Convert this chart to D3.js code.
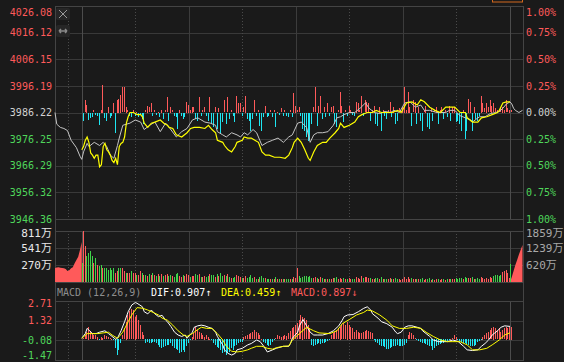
<!DOCTYPE html>
<meta charset="utf-8">
<style>
body { margin: 0; background: #1a1a1a; }
svg { display: block; }
text { font-family: "DejaVu Sans Mono", "Liberation Mono", "Noto Sans CJK SC", monospace; font-size: 10px; }
</style>
<svg width="564" height="362"></svg>
<script src="https://d3js.org/d3.v7.min.js"></script>
<script>
// ---- data (minutes from 9:30, -15 = 9:15 auction, 240 = 15:00) ----
var baseClose = 3986.22;
var pctTicks = [1, 0.75, 0.5, 0.25, 0, -0.25, -0.5, -0.75, -1];
var volTicks = [811, 541, 270];
var auctionTicks = [1859, 1239, 620];
var macdTicks = [2.71, 1.32, -0.08, -1.47];
var macdLatest = [0.907, 0.459, 0.897];

// index line, % change
var indexLine = [[-15,0.00],[-14,-0.11],[-12,-0.14],[-10,-0.15],[-8,-0.17],[-6,-0.26],[-3,-0.33],[-1,-0.41],[0,-0.44],
  [1,-0.37],[3,-0.29],[4,-0.32],[7,-0.28],[10,-0.31],[12,-0.28],[14,-0.32],[16,-0.40],[18,-0.43],[20,-0.31],[21,-0.24],
  [23,-0.12],[27,-0.10],[30,-0.07],[33,-0.09],[35,-0.16],[38,-0.12],[41,-0.09],[44,-0.18],[47,-0.10],[49,-0.14],
  [53,-0.23],[56,-0.18],[59,-0.15],[62,-0.07],[65,-0.05],[69,-0.09],[72,-0.10],[75,-0.12],[76,-0.18],[79,-0.21],
  [81,-0.23],[84,-0.19],[87,-0.21],[89,-0.23],[91,-0.19],[93,-0.21],[96,-0.16],[98,-0.19],[101,-0.31],[104,-0.28],
  [107,-0.26],[110,-0.24],[113,-0.28],[116,-0.23],[118,-0.21],[121,-0.10],[123,-0.09],[126,-0.14],[128,-0.28],[130,-0.21],
  [132,-0.19],[135,-0.19],[138,-0.18],[141,-0.12],[143,-0.05],[145,-0.04],[147,-0.02],[150,0.00],[153,0.00],[156,0.04],
  [159,0.09],[161,0.04],[164,0.00],[167,-0.01],[170,0.01],[173,0.00],[175,0.02],[178,0.00],[181,0.09],[184,0.10],
  [187,0.05],[190,0.07],[192,0.02],[195,0.02],[199,0.00],[204,0.00],[206,0.02],[209,0.02],[212,-0.03],[215,-0.05],
  [218,-0.07],[219,-0.09],[222,-0.05],[223,-0.04],[226,-0.04],[229,-0.01],[232,0.00],[234,0.01],[236,0.04],[238,0.08],
  [240,0.10],[241,0.08],[242,0.04],[243,0.02],[245,0.00],[247,0.02]];

// leading (unweighted) line, % change
var leadLine = [[0,-0.35],[1,-0.32],[2,-0.26],[3,-0.23],[4,-0.28],[5,-0.38],[6,-0.40],[7,-0.43],[8,-0.40],[9,-0.40],
  [10,-0.51],[11,-0.49],[12,-0.32],[13,-0.29],[14,-0.35],[15,-0.37],[16,-0.40],[17,-0.45],[18,-0.47],[19,-0.43],
  [20,-0.49],[21,-0.32],[22,-0.29],[23,-0.28],[24,-0.23],[25,-0.10],[26,-0.04],[27,0.00],[29,0.00],[31,-0.02],
  [33,-0.02],[34,-0.04],[35,-0.10],[37,-0.14],[39,-0.10],[41,-0.09],[44,-0.07],[46,-0.10],[48,-0.12],[49,-0.14],
  [51,-0.15],[53,-0.21],[56,-0.23],[59,-0.19],[61,-0.15],[63,-0.14],[66,-0.14],[69,-0.15],[71,-0.12],[73,-0.16],
  [75,-0.19],[76,-0.26],[79,-0.28],[80,-0.31],[82,-0.35],[84,-0.37],[86,-0.32],[87,-0.28],[90,-0.26],[91,-0.23],
  [93,-0.24],[95,-0.24],[97,-0.26],[99,-0.28],[101,-0.37],[103,-0.40],[105,-0.40],[108,-0.42],[111,-0.42],[114,-0.43],
  [116,-0.40],[118,-0.33],[119,-0.28],[121,-0.24],[123,-0.28],[125,-0.35],[127,-0.43],[128,-0.45],[130,-0.37],[132,-0.31],
  [135,-0.28],[137,-0.28],[139,-0.24],[142,-0.19],[144,-0.15],[145,-0.10],[147,-0.14],[150,-0.12],[153,-0.09],[155,-0.04],
  [157,-0.02],[160,0.00],[163,0.00],[165,0.02],[168,0.00],[171,0.00],[174,0.00],[177,0.02],[179,0.00],[182,0.09],
  [185,0.10],[188,0.07],[190,0.12],[192,0.10],[195,0.05],[198,0.02],[201,0.00],[204,0.05],[206,0.05],[209,0.05],
  [212,0.00],[215,0.00],[216,-0.05],[219,-0.09],[222,-0.09],[224,-0.05],[227,-0.04],[230,-0.02],[233,0.00],[234,0.02],
  [236,0.09],[238,0.10],[240,0.10]];

// red/green strength bars, one per minute
var powerBars = [-8,12,8,-7,-5,-4,2,-2,-3,-12, 3,28,-5,-8,6,-5,-3,10,-20,13, 14,18,25,25,6,2,-3,-4,2,-3,
  1,-4,-2,-6,-11,2,7,5,9,-3, 2,-2,1,-4,3,-6,2,15,-8,6, 2,-3,-4,-16,3,-3,-6,-4,11,8,
  3,6,5,-6,-8,15,-3,2,5,-3, -8,15,-11,-14,5,-16,4,-21,-9,12, -11,15,-6,2,-3,-9,17,10,9,-3,
  5,17,-6,-8,-18,-6,12,-3,2,-13, -18,-4,7,-4,-3,2,-4,2,-14,1, -2,4,-3,2,-3,-4,2,-4,20,7,
  2,5,-3,-16,-18,-24,-28,-26,-11,5, 25,-13,7,17,-6,5,-4,9,-3,5, 7,-11,-14,2,21,7,-9,2,-3,7,
  2,-2,-3,11,9,2,17,-3,12,11, 9,-8,2,7,-11,-13,6,-18,2,-3, -6,2,11,-4,6,-11,-8,4,2,6,
  26,3,21,6,-13,12,11,-11,6,-8, -18,2,7,-14,-16,4,-8,2,6,-11, 2,6,-6,2,-4,7,-8,6,6,-9,
  -8,-11,-18,3,-26,-18,14,11,-18,6, -6,-8,-3,17,9,4,10,5,12,7, 9,4,3,2,4,6,3,12,4,3, 2];

// volume per minute (万) and up/down flag
var volume = [806,567,408,461,488,408,302,382,276,249, 276,223,223,223,196,223,196,223,143,170,
  223,223,223,170,143,143,143,170,143,143, 117,117,170,143,117,117,90,130,105,140,
  110,95,120,100,125,90,110,135,100,115, 95,85,120,140,95,80,105,90,130,110,
  85,100,95,120,110,135,80,75,95,85, 100,125,110,115,80,120,90,140,100,115,
  95,120,75,70,65,85,105,90,80,60, 70,100,65,75,110,60,85,55,50,80,
  95,60,70,55,50,45,55,45,75,40, 45,50,40,45,50,55,40,50,85,60,
  215,95,70,85,90,100,85,95,65,60, 80,70,55,75,60,50,45,55,45,50,
  60,70,75,45,70,55,60,45,50,60, 45,40,45,75,65,55,90,60,80,75,
  60,65,45,55,70,70,50,75,40,45, 55,40,60,45,50,60,55,45,35,50,
  85,40,75,45,60,55,50,55,45,50, 65,35,45,55,60,35,50,30,40,55,
  35,45,50,30,45,50,55,45,40,60, 55,65,70,40,80,70,70,60,75,50,
  55,60,45,80,60,50,65,55,85,70, 90,105,110,100,115,160,175,190,140,60, 45];
var volumeUp = ("1100001010" + "0100000011" + "0011011011" + "0110101010" + "1010101100" +
  "1000110111" + "0110010110" + "0100101001" + "0101001110" + "1100001010" +
  "0010010101" + "0101001011" + "1000000001" + "1011010101" + "1001110101" +
  "1001111011" + "1011001010" + "0110100111" + "1111011010" + "0110010110" +
  "1101010110" + "0001001101" + "0001111111" + "0000011111" + "1").split("").map(Number);

// auction volume (万, right scale)
var openAuction = [510,530,540,520,510,500,470,400,430,500,540,680,800,920,1170,1460]; // minutes -15..0
var openAuctionBar = 690;
var closeAuctionBar = 650;
var closeAuction = [0,180,400,620,800,1000,1180,1350]; // minutes 240..247

// MACD
var macdHist = [0.10,0.30,0.53,0.89,0.60,0.41,0.30,0.30,0.18,-0.06, 0.18,0.12,0.30,0.20,0.15,0.10,0.05,-0.10,-0.65,-1.12,
  -0.77,-0.30,0.30,0.77,1.24,1.72,2.00,2.14,2.07,1.60, 1.72,1.36,1.00,0.53,0.30,-0.30,-0.18,-0.25,-0.30,-0.22,
  -0.18,-0.30,-0.41,-0.55,-0.65,-0.60,-0.53,-0.45,-0.41,-0.30, -0.50,-0.65,-0.70,-0.77,-1.00,-0.89,-0.77,-0.89,-0.53,-0.30,
  -0.05,0.18,0.41,0.89,0.65,0.53,0.41,0.30,0.18,0.30, 0.18,0.05,-0.06,-0.25,-0.41,-0.55,-0.65,-0.77,-1.00,-0.89,
  -1.12,-1.00,-0.89,-0.65,-0.77,-0.53,-0.40,-0.30,-0.22,-0.18, 0.18,0.22,0.30,0.35,0.41,0.50,0.65,0.53,0.41,0.30,
  0.05,-0.18,-0.30,-0.41,-0.53,-0.41,-0.18,-0.06,0.10,0.30, 0.22,0.18,0.25,0.30,0.25,0.41,0.55,0.77,0.90,1.00,
  1.12,1.36,1.72,1.60,1.48,1.36,1.00,0.77,-0.41,-0.53, -0.41,-0.35,-0.30,-0.35,-0.30,-0.25,-0.18,-0.12,-0.06,0.30,
  0.41,0.53,0.65,0.77,0.89,1.00,1.12,1.00,1.24,1.00, 0.89,0.77,0.53,0.65,0.50,0.41,0.45,0.53,0.60,0.65,
  0.55,0.53,0.41,-0.06,-0.18,-0.30,-0.41,-0.48,-0.53,-0.60, -0.70,-0.68,-0.65,-0.60,-0.53,-0.48,-0.41,-0.48,-0.53,-0.48,
  -0.41,-0.30,0.30,0.53,0.41,0.30,0.10,-0.06,-0.12,-0.18, -0.25,-0.30,-0.35,-0.41,-0.47,-0.53,-0.77,-0.65,-0.53,-0.41,
  -0.35,-0.30,-0.25,-0.18,-0.12,-0.06,0.05,0.10,0.30,0.18, -0.06,-0.12,-0.18,-0.25,-0.30,-0.35,-0.41,-0.47,-0.53,-0.47,
  -0.41,-0.18,-0.12,-0.06,0.18,0.30,0.41,0.53,0.65,0.77, 0.89,0.77,0.65,0.77,0.53,0.65,0.77,0.89,0.77,0.89, 0.90];
var difLine = [[0,0.07],[2,0.40],[3,0.77],[6,0.40],[8,0.40],[10,0.50],[13,0.60],[15,0.40],[17,0.20],[19,0.00],
  [20,0.07],[22,0.60],[24,1.24],[26,1.95],[28,2.42],[30,2.60],[31,2.55],[34,2.30],[35,1.95],[37,1.80],
  [39,2.07],[41,1.80],[43,1.60],[45,1.70],[47,1.35],[48,1.24],[50,0.90],[52,0.50],[54,0.30],[56,0.20],
  [58,0.30],[59,0.07],[62,0.50],[63,0.85],[65,0.95],[67,1.00],[69,0.95],[71,0.85],[73,0.77],[75,0.50],
  [76,0.20],[79,-0.40],[80,-0.75],[82,-1.00],[84,-1.12],[86,-1.00],[87,-0.75],[90,-0.64],[93,-0.40],[95,-0.30],
  [98,-0.05],[100,-0.17],[102,-0.50],[104,-0.90],[107,-0.75],[109,-0.64],[113,-0.50],[116,-0.50],[117,-0.30],[118,0.07],
  [121,0.50],[122,0.95],[124,1.40],[126,0.95],[128,0.50],[130,0.30],[132,0.30],[135,0.30],[138,0.40],[141,0.60],
  [144,0.95],[146,1.35],[147,1.60],[149,1.72],[152,1.75],[155,1.95],[158,2.19],[160,2.30],[162,2.07],[163,1.80],
  [166,1.50],[168,1.24],[171,1.10],[174,0.85],[176,0.50],[177,0.40],[179,0.50],[181,0.85],[183,0.95],[185,0.95],
  [188,0.85],[190,0.77],[191,0.60],[193,0.40],[195,0.20],[197,-0.05],[200,-0.17],[202,-0.17],[205,-0.17],[208,-0.05],
  [211,-0.17],[214,-0.50],[216,-0.75],[219,-0.80],[222,-0.75],[224,-0.50],[226,-0.30],[228,-0.05],[230,0.30],[233,0.60],
  [235,0.85],[237,0.95],[240,0.91]];
var deaLine = [[0,0.07],[3,0.40],[6,0.40],[9,0.40],[12,0.45],[15,0.50],[17,0.30],[20,0.07],[21,0.20],[23,0.50],
  [26,1.24],[28,1.72],[30,2.07],[31,2.24],[34,2.20],[37,2.07],[40,1.90],[43,1.72],[45,1.50],[48,1.35],
  [51,1.00],[54,0.60],[57,0.30],[59,0.20],[62,0.40],[64,0.60],[67,0.85],[70,0.77],[73,0.77],[76,0.40],
  [79,-0.05],[81,-0.50],[84,-0.85],[87,-0.90],[90,-0.85],[93,-0.75],[95,-0.64],[98,-0.50],[101,-0.50],[104,-0.64],
  [107,-0.70],[109,-0.60],[113,-0.50],[116,-0.48],[118,-0.05],[122,0.40],[126,0.85],[130,0.60],[133,0.45],[139,0.40],
  [143,0.60],[146,1.10],[150,1.40],[154,1.72],[158,1.90],[160,2.07],[163,2.00],[167,1.72],[171,1.35],[174,0.95],
  [178,0.77],[182,0.77],[186,0.85],[190,0.77],[193,0.50],[197,0.20],[201,-0.05],[205,-0.17],[208,-0.17],[212,-0.17],
  [216,-0.40],[219,-0.75],[223,-0.75],[227,-0.64],[230,-0.40],[234,-0.05],[237,0.30],[240,0.46]];

var solidMinutes = [0, 60, 120, 180, 240];
var dottedMinutes = [-7.5, 30, 90, 150, 210];

// ---- layout ----
var RED = "#ff5a5a", GREEN = "#4fd65a", CYAN = "#1ee6f2", VGREEN = "#3fd24a";
var svg = d3.select("svg");
var L = 55, R = 523;
var mainP = {top: 6, bottom: 219}, volP = {top: 231, bottom: 282}, macdP = {top: 301, bottom: 360};

var x = d3.scaleLinear().domain([-15, 240]).range([55, 510]);
var y = d3.scaleLinear().domain([-1, 1]).range([mainP.bottom, mainP.top]);
var yBar = d3.scaleLinear().domain([-106.5, 106.5]).range([mainP.bottom, mainP.top]);
var yVol = d3.scaleLinear().domain([0, 811]).range([volP.bottom, volP.top]);
var yAuc = d3.scaleLinear().domain([0, 1859]).range([volP.bottom, volP.top]);
var yMacd = d3.scaleLinear().domain([-1.47, 2.71]).range([macdP.bottom, macdP.top]);

function px(v) { return Math.round(v) + 0.5; }
function bx(i) { return Math.round(x(i)) + 1; }

function grid(p, ys) {
  var g = svg.append("g").attr("shape-rendering", "crispEdges");
  ys.forEach(function(v) {
    g.append("line").attr("x1", L).attr("x2", R).attr("y1", px(v)).attr("y2", px(v)).attr("stroke", "#393939");
  });
  dottedMinutes.forEach(function(m) {
    g.append("line").attr("x1", px(x(m))).attr("x2", px(x(m))).attr("y1", p.top).attr("y2", p.bottom)
      .attr("stroke", "#4a4a4a").attr("stroke-dasharray", "1,2");
  });
  solidMinutes.forEach(function(m) {
    g.append("line").attr("x1", px(x(m))).attr("x2", px(x(m))).attr("y1", p.top).attr("y2", p.bottom)
      .attr("stroke", (m === 0 || m === 240) ? "#4c4c4c" : "#3c3c3c");
  });
  g.append("rect").attr("x", L + 0.5).attr("y", p.top + 0.5).attr("width", R - L).attr("height", p.bottom - p.top)
    .attr("fill", "none").attr("stroke", "#444");
}

grid(mainP, pctTicks.map(y));
grid(volP, volTicks.map(yVol));
grid(macdP, macdTicks.map(yMacd));
svg.append("g").attr("shape-rendering", "crispEdges").selectAll("line").data([L, R]).enter().append("line")
  .attr("x1", d => d + 0.5).attr("x2", d => d + 0.5).attr("y1", mainP.top).attr("y2", macdP.bottom).attr("stroke", "#444");

// ---- main panel ----
var powerG = svg.append("g").attr("shape-rendering", "crispEdges");
powerG.selectAll("rect").data(powerBars).enter().append("rect")
  .attr("x", (d, i) => bx(i)).attr("width", 1)
  .attr("y", d => Math.round(Math.min(yBar(0), yBar(d))))
  .attr("height", d => Math.round(Math.abs(yBar(d) - yBar(0))))
  .attr("fill", d => d >= 0 ? RED : CYAN);

var line = d3.line().x(d => x(d[0])).y(d => y(d[1]));
svg.append("path").datum(indexLine).attr("d", line).attr("fill", "none").attr("stroke", "#c4c4c4").attr("stroke-width", 1);
svg.append("path").datum(leadLine).attr("d", line).attr("fill", "none").attr("stroke", "#ffff00").attr("stroke-width", 1.2);

// ---- volume panel ----
var area = d3.area().x(d => x(d[0])).y0(volP.bottom).y1(d => yAuc(d[1]));
svg.append("path").datum(openAuction.map((v, i) => [i - 15, v])).attr("d", area).attr("fill", RED);
svg.append("path").datum(closeAuction.map((v, i) => [240 + i, v])).attr("d", area).attr("fill", RED);
var volG = svg.append("g").attr("shape-rendering", "crispEdges");
volG.selectAll("rect").data(volume).enter().append("rect")
  .attr("x", (d, i) => bx(i)).attr("width", 1)
  .attr("y", d => Math.round(yVol(d))).attr("height", d => volP.bottom - Math.round(yVol(d)))
  .attr("fill", (d, i) => volumeUp[i] ? RED : VGREEN);
volG.selectAll("rect.auc").data([[0, openAuctionBar], [240, closeAuctionBar]]).enter().append("rect")
  .attr("class", "auc").attr("x", d => Math.round(x(d[0]))).attr("width", 1)
  .attr("y", d => Math.round(yAuc(d[1]))).attr("height", d => volP.bottom - Math.round(yAuc(d[1])))
  .attr("fill", VGREEN);

// ---- MACD panel ----
var macdG = svg.append("g").attr("shape-rendering", "crispEdges");
macdG.selectAll("rect").data(macdHist).enter().append("rect")
  .attr("x", (d, i) => bx(i)).attr("width", 1)
  .attr("y", d => Math.round(Math.min(yMacd(0), yMacd(d))))
  .attr("height", d => Math.max(1, Math.round(Math.abs(yMacd(d) - yMacd(0)))))
  .attr("fill", d => d >= 0 ? RED : CYAN);
var mline = d3.line().x(d => x(d[0])).y(d => yMacd(d[1]));
svg.append("path").datum(difLine).attr("d", mline).attr("fill", "none").attr("stroke", "#ffffff").attr("stroke-width", 1);
svg.append("path").datum(deaLine).attr("d", mline).attr("fill", "none").attr("stroke", "#ffff00").attr("stroke-width", 1);

// ---- axes ----
function styleAxis(g, color, edgeShift) {
  g.select(".domain").remove();
  g.selectAll("text").attr("fill", color).attr("font-family", null).attr("font-size", null);
  if (edgeShift) g.selectAll(".tick").each(function(d, i, n) {
    var s = edgeShift(d, i, n.length);
    if (s) d3.select(this).select("text").attr("y", s);
  });
}
var fmtPrice = p => (baseClose * (1 + p / 100)).toFixed(2);
var pctColor = p => p > 0 ? RED : p < 0 ? GREEN : "#d2d2d2";
var mainEdge = (d, i) => i === 0 ? 6 : 0;

svg.append("g").attr("transform", "translate(" + L + ",0)")
  .call(d3.axisLeft(y).tickValues(pctTicks).tickSize(0).tickPadding(3).tickFormat(fmtPrice))
  .call(g => styleAxis(g, pctColor, mainEdge));
svg.append("g").attr("transform", "translate(" + R + ",0)")
  .call(d3.axisRight(y).tickValues(pctTicks).tickSize(0).tickPadding(3).tickFormat(p => Math.abs(p).toFixed(2) + "%"))
  .call(g => styleAxis(g, pctColor, mainEdge));

svg.append("g").attr("transform", "translate(" + L + ",0)")
  .call(d3.axisLeft(yVol).tickValues(volTicks).tickSize(0).tickPadding(3).tickFormat(v => v + "万"))
  .call(g => styleAxis(g, "#e8e8e8", (d, i) => i === 0 ? 2 : 0))
  .selectAll("text").style("font-size", "11px");
svg.append("g").attr("transform", "translate(" + R + ",0)")
  .call(d3.axisRight(yAuc).tickValues(auctionTicks).tickSize(0).tickPadding(3).tickFormat(v => v + "万"))
  .call(g => styleAxis(g, "#a8a8a8", (d, i) => i === 0 ? 2 : 0))
  .selectAll("text").style("font-size", "11px");

svg.append("g").attr("transform", "translate(" + L + ",0)")
  .call(d3.axisLeft(yMacd).tickValues(macdTicks).tickSize(0).tickPadding(3).tickFormat(v => v.toFixed(2)))
  .call(g => styleAxis(g, v => v > 0 ? RED : GREEN, (d, i, n) => i === 0 ? 2 : i === n - 1 ? -5 : 0));

// ---- MACD title ----
var titleY = 296;
svg.append("text").attr("x", 57).attr("y", titleY).attr("fill", "#8e8e8e").text("MACD (12,26,9)");
svg.append("text").attr("x", 151).attr("y", titleY).attr("fill", "#ffffff").text("DIF:" + macdLatest[0].toFixed(3) + "↑");
svg.append("text").attr("x", 221).attr("y", titleY).attr("fill", "#ffff00").text("DEA:" + macdLatest[1].toFixed(3) + "↑");
svg.append("text").attr("x", 291).attr("y", titleY).attr("fill", RED).text("MACD:" + macdLatest[2].toFixed(3) + "↓");

// ---- small widgets ----
var w = svg.append("g");
w.append("rect").attr("x", 56).attr("y", 8).attr("width", 14).attr("height", 12).attr("rx", 2).attr("fill", "#262626");
w.append("path").attr("d", "M59,10L67,18M67,10L59,18").attr("stroke", "#9a9a9a").attr("stroke-width", 1);
w.append("rect").attr("x", 56).attr("y", 25).attr("width", 14).attr("height", 12).attr("rx", 2).attr("fill", "#262626");
w.append("path").attr("d", "M59,31L67,31M59,31L61,29M59,31L61,33M67,31L65,29M67,31L65,33").attr("stroke", "#8a8a8a").attr("stroke-width", 1.5);
w.append("rect").attr("x", 492.5).attr("y", -8).attr("width", 30).attr("height", 10).attr("fill", "none").attr("stroke", "#d2691e");
</script>
